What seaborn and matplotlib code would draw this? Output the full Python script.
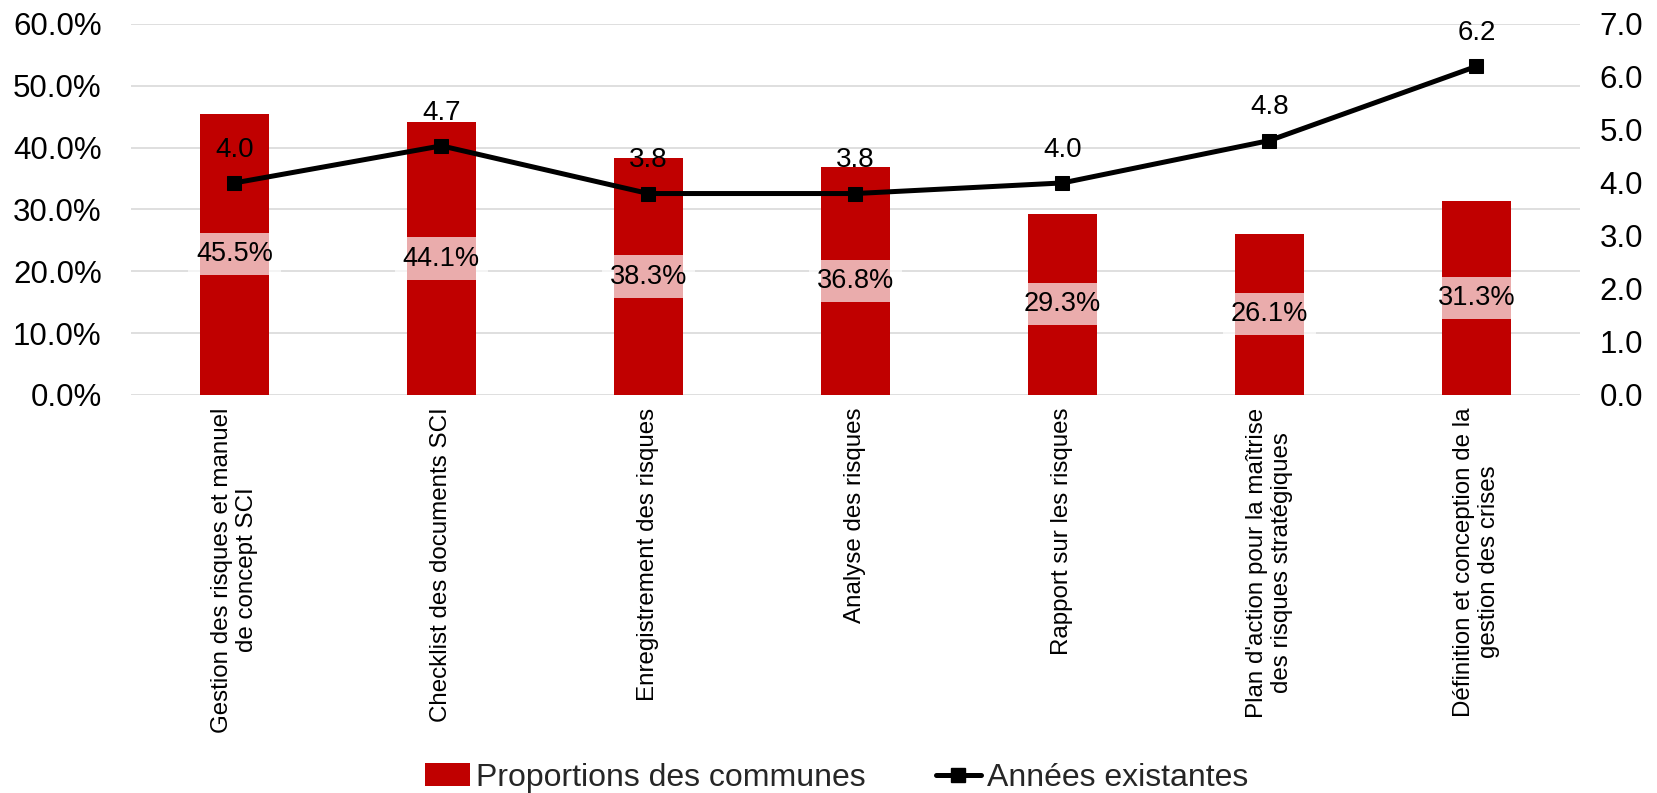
import numpy as np
import pandas as pd
import matplotlib
matplotlib.use("Agg")
import matplotlib.pyplot as plt
from matplotlib.lines import Line2D
from matplotlib.patches import Patch
from matplotlib.ticker import FuncFormatter, MultipleLocator
import seaborn as sns

categories = [
    "Gestion des risques et manuel\nde concept SCI",
    "Checklist des documents SCI",
    "Enregistrement des risques",
    "Analyse des risques",
    "Rapport sur les risques",
    "Plan d'action pour la maîtrise\ndes risques stratégiques",
    "Définition et conception de la\ngestion des crises",
]
proportions = [45.5, 44.1, 38.3, 36.8, 29.3, 26.1, 31.3]
annees = [4.0, 4.7, 3.8, 3.8, 4.0, 4.8, 6.2]

bar_label = "Proportions des communes"
line_label = "Années existantes"

BAR_COLOR = "#C00000"
GRID_COLOR = "#D9D9D9"

sns.set_theme(style="white")
plt.rcParams["font.family"] = ["Liberation Sans", "DejaVu Sans"]

df = pd.DataFrame({"cat": categories, "prop": proportions, "annees": annees})

fig = plt.figure(figsize=(16.57, 7.93), dpi=100)
ax = fig.add_axes([0.079, 0.502, 0.8745, 0.4678])

sns.barplot(data=df, x="cat", y="prop", color=BAR_COLOR, width=0.333,
            saturation=1, ax=ax, zorder=2)
for p in ax.patches:
    p.set_edgecolor("none")

ax.set_ylim(0, 60)
ax.yaxis.set_major_locator(MultipleLocator(10))
ax.yaxis.set_major_formatter(FuncFormatter(lambda v, _: f"{v:.1f}%"))
ax.grid(axis="y", color=GRID_COLOR, linewidth=1.2, zorder=0)
ax.set_axisbelow(True)
ax.set_xlim(-0.5, len(categories) - 0.5)
ax.set_xlabel("")
ax.set_ylabel("")
for s in ax.spines.values():
    s.set_visible(False)
ax.tick_params(axis="y", length=0, pad=21, labelsize=22.5, labelcolor="black")
ax.tick_params(axis="x", length=0, pad=9)
ax.set_xticks(range(len(categories)))
ax.set_xticklabels(categories, rotation=90, ha="center", va="top",
                   fontsize=17.4, multialignment="center", color="black")

# percentage labels in the middle of each bar
for i, v in enumerate(proportions):
    ax.text(i, v / 2, f"{v:.1f}%", ha="center", va="center", fontsize=19.5,
            color="black", zorder=5,
            bbox=dict(boxstyle="square,pad=0.3", facecolor="white",
                      edgecolor="none", alpha=0.68))

# secondary axis: years
ax2 = ax.twinx()
sns.lineplot(x=np.arange(len(annees)), y=annees, ax=ax2, color="black",
             linewidth=3.6, marker="s", markersize=10.5, markeredgecolor="black",
             zorder=4)
ax2.set_ylim(0, 7)
ax2.set_xlim(-0.5, len(categories) - 0.5)
ax2.yaxis.set_major_locator(MultipleLocator(1))
ax2.yaxis.set_major_formatter(FuncFormatter(lambda v, _: f"{v:.1f}"))
ax2.tick_params(axis="y", length=0, pad=14, labelsize=22.5, labelcolor="black")
ax2.grid(False)
for s in ax2.spines.values():
    s.set_visible(False)
ax2.set_ylabel("")

for i, v in enumerate(annees):
    ax2.annotate(f"{v:.1f}", (i, v), xytext=(0, 24), textcoords="offset points",
                 ha="center", va="center", fontsize=20, color="black")

handles = [
    Patch(facecolor=BAR_COLOR, edgecolor="none"),
    Line2D([0], [0], color="black", linewidth=3.6, marker="s", markersize=10.5),
]
fig.legend(handles, [bar_label, line_label], loc="lower center",
           bbox_to_anchor=(0.505, -0.036), ncol=2, frameon=False, fontsize=23,
           handlelength=1.4, handletextpad=0.2, columnspacing=2.2)

fig.savefig("out.png", dpi=100, facecolor="white")
